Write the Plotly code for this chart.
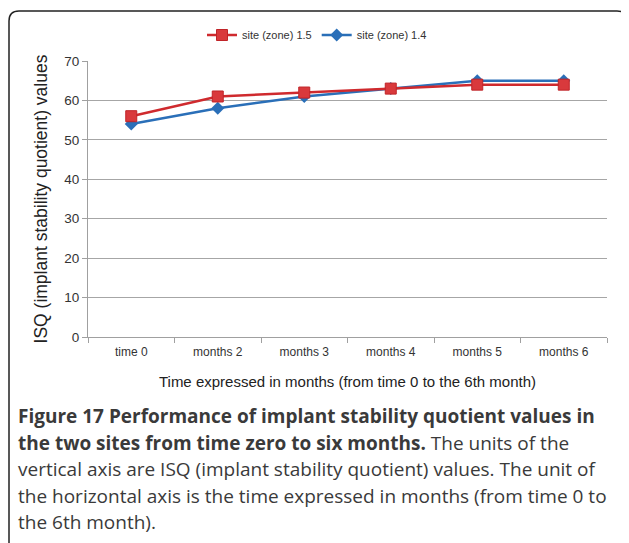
import plotly.graph_objects as go

categories = ["time 0", "months 2", "months 3", "months 4", "months 5", "months 6"]
site_15 = [56, 61, 62, 63, 64, 64]
site_14 = [54, 58, 61, 63, 65, 65]
series_names = ["site (zone) 1.5", "site (zone) 1.4"]
y_title = "ISQ (implant stability quotient) values"
x_title = "Time expressed in months (from time 0 to the 6th month)"
caption_lines = [
    "<b>Figure 17 Performance of implant stability quotient values in</b>",
    "<b>the two sites from time zero to six months.</b> The units of the",
    "vertical axis are ISQ (implant stability quotient) values. The unit of",
    "the horizontal axis is the time expressed in months (from time 0 to",
    "the 6th month).",
]

# page body adds an 8px margin; figure coordinates = reference coordinates - 8
OFF = 8
W, H = 621, 535
L, R, T, B = 80, 22, 53, 206
pw, ph = W - L - R, H - T - B


def px(x):
    return (x - OFF - L) / pw


def py(y):
    return (H - B - (y - OFF)) / ph


fig = go.Figure()
fig.add_trace(go.Scatter(
    x=categories, y=site_14, name=series_names[1], mode="lines+markers",
    line=dict(color="#2a6fb8", width=2.5),
    marker=dict(symbol="diamond", size=10, color="#2a6fb8"),
    legendrank=2,
))
fig.add_trace(go.Scatter(
    x=categories, y=site_15, name=series_names[0], mode="lines+markers",
    line=dict(color="#cf2a2e", width=2.5),
    marker=dict(symbol="square", size=11, color="#d9393c",
                line=dict(color="#c02428", width=1)),
    legendrank=1,
))

fig.update_layout(
    width=W, height=H,
    margin=dict(l=L, r=R, t=T, b=B),
    paper_bgcolor="white", plot_bgcolor="white",
    font=dict(family="Liberation Sans, Arial", color="#333", size=12),
    showlegend=True,
    legend=dict(orientation="h", x=px(317), xanchor="center", y=py(35), yanchor="middle",
                font=dict(size=11, color="#333"), itemwidth=30, tracegroupgap=0,
                bgcolor="rgba(0,0,0,0)"),
)
fig.update_xaxes(
    type="category", range=[-0.5, 5.5],
    showline=True, linecolor="#a0a0a0", linewidth=1.2,
    ticks="outside", tickson="boundaries", ticklen=5, tickcolor="#a0a0a0",
    tickfont=dict(size=12, color="#333"), ticklabelstandoff=3,
    showgrid=False, zeroline=False,
    title=dict(text=x_title, font=dict(size=15, color="#222"), standoff=18),
)
fig.update_yaxes(
    range=[0, 70], dtick=10,
    showline=True, linecolor="#a0a0a0", linewidth=1.2,
    ticks="outside", ticklen=5, tickcolor="#a0a0a0",
    tickfont=dict(size=13.5, color="#333"),
    showgrid=True, gridcolor="#a6a6a6", gridwidth=1.2, zeroline=False,
    title=dict(text=y_title, font=dict(size=17.5, color="#222"), standoff=12),
)

# caption
line_y = [416, 443, 469, 496, 522]
for txt, yy in zip(caption_lines, line_y):
    fig.add_annotation(
        text=txt, xref="paper", yref="paper", x=px(16), y=py(yy),
        xanchor="left", yanchor="middle", align="left", showarrow=False,
        font=dict(family="Open Sans", size=19, color="#3a3a3a"),
    )

# rounded frame
x0, x1 = px(9), px(627)
y0, y1 = py(545), py(11)
rx, ry = 10 / pw, 10 / ph
path = (f"M {x0},{y0} L {x0},{y1 - ry} Q {x0},{y1} {x0 + rx},{y1} "
        f"L {x1 - rx},{y1} Q {x1},{y1} {x1},{y1 - ry} L {x1},{y0}")
fig.add_shape(type="path", path=path, xref="paper", yref="paper",
              line=dict(color="#222", width=1.5))

fig.write_html("out.html")
